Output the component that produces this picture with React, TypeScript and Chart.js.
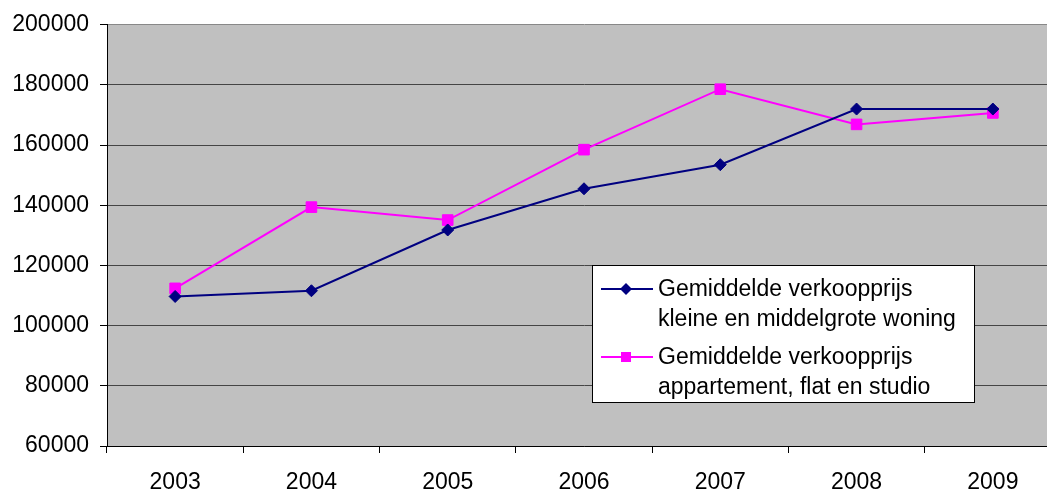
import React, { useEffect, useRef } from "react";
import { Chart, registerables } from "chart.js";

Chart.register(...registerables);

const years = ["2003", "2004", "2005", "2006", "2007", "2008", "2009"];
const kleineWoning = [109700, 111600, 131800, 145500, 153500, 172000, 172000];
const appartement = [112400, 139400, 135100, 158500, 178600, 166900, 170700];
const seriesNames = [
  ["Gemiddelde verkoopprijs", "kleine en middelgrote woning"],
  ["Gemiddelde verkoopprijs", "appartement, flat en studio"],
];
const yMin = 60000;
const yMax = 200000;
const yStep = 20000;

const FONT = "'Liberation Sans', Arial, sans-serif";

export default function App() {
  const ref = useRef<HTMLCanvasElement>(null);
  useEffect(() => {
    document.body.style.margin = "0";
    const bgPlugin = {
      id: "bg",
      beforeDraw(chart: any) {
        const { ctx, chartArea: a } = chart;
        ctx.save();
        ctx.fillStyle = "#C0C0C0";
        ctx.fillRect(a.left, a.top, a.right - a.left, a.bottom - a.top);
        ctx.restore();
      },
    };
    const legendPlugin = {
      id: "customLegend",
      afterDraw(chart: any) {
        const ctx = chart.ctx;
        ctx.save();
        const bx = 592.5, by = 265.5, bw = 382, bh = 137;
        ctx.fillStyle = "#FFFFFF";
        ctx.fillRect(bx, by, bw, bh);
        ctx.strokeStyle = "#000000";
        ctx.lineWidth = 1;
        ctx.strokeRect(bx, by, bw, bh);
        const rows = [289, 357];
        chart.data.datasets.forEach((ds: any, i: number) => {
          const y = rows[i];
          ctx.strokeStyle = ds.borderColor;
          ctx.lineWidth = 2;
          ctx.beginPath();
          ctx.moveTo(601, y);
          ctx.lineTo(653, y);
          ctx.stroke();
          ctx.fillStyle = ds.borderColor;
          ctx.beginPath();
          if (i === 0) {
            ctx.moveTo(626, y - 6);
            ctx.lineTo(632, y);
            ctx.lineTo(626, y + 6);
            ctx.lineTo(620, y);
            ctx.closePath();
          } else {
            ctx.rect(621, y - 5, 10, 10);
          }
          ctx.fill();
          ctx.fillStyle = "#000000";
          ctx.font = `23px ${FONT}`;
          ctx.textBaseline = "middle";
          ctx.textAlign = "left";
          seriesNames[i].forEach((line, k) => {
            ctx.fillText(line, 658, y + 1 + k * 30);
          });
        });
        ctx.restore();
      },
    };
    const chart = new Chart(ref.current!, {
      type: "line",
      data: {
        labels: years,
        datasets: [
          {
            label: seriesNames[0].join(" "),
            data: kleineWoning,
            borderColor: "#000080",
            backgroundColor: "#000080",
            borderWidth: 2,
            pointStyle: "rectRot",
            pointRadius: 6,
            pointBorderWidth: 1,
            pointBorderColor: "#000080",
            pointBackgroundColor: "#000080",
            tension: 0,
          },
          {
            label: seriesNames[1].join(" "),
            data: appartement,
            borderColor: "#FF00FF",
            backgroundColor: "#FF00FF",
            borderWidth: 2,
            pointStyle: "rect",
            pointRadius: 7.5,
            pointBorderWidth: 1,
            pointBorderColor: "#FF00FF",
            pointBackgroundColor: "#FF00FF",
            tension: 0,
          },
        ],
      },
      options: {
        responsive: false,
        animation: false,
        layout: { padding: { top: 22, right: 9, left: 0, bottom: 0 } },
        plugins: {
          legend: { display: false },
          tooltip: { enabled: false },
        },
        scales: {
          x: {
            type: "category",
            offset: true,
            grid: {
              offset: true,
              drawOnChartArea: false,
              drawTicks: true,
              tickLength: 7,
              tickColor: "#000000",
            },
            border: { color: "#000000", width: 1 },
            ticks: {
              color: "#000000",
              font: { family: FONT, size: 23 },
              padding: 16,
              maxRotation: 0,
            },
            afterFit(scale: any) {
              scale.height = 47;
            },
          },
          y: {
            min: yMin,
            max: yMax,
            ticks: {
              stepSize: yStep,
              color: "#000000",
              font: { family: FONT, size: 23 },
              padding: 11,
              callback: (v: any) => String(v),
            },
            grid: {
              color: (c: any) => (c.tick && c.tick.value === yMax ? "#888888" : "#454545"),
              lineWidth: 1,
              tickLength: 7,
              tickColor: "#000000",
            },
            border: { color: "#000000", width: 1 },
            afterFit(scale: any) {
              scale.width = 107;
            },
          },
        },
      },
      plugins: [bgPlugin, legendPlugin],
    });
    return () => chart.destroy();
  }, []);
  return (
    <div style={{ position: "absolute", left: 0, top: 0, width: 1047, height: 493, overflow: "hidden", background: "#fff" }}>
      <canvas ref={ref} width={1070} height={493} style={{ width: 1070, height: 493, display: "block" }} />
    </div>
  );
}
